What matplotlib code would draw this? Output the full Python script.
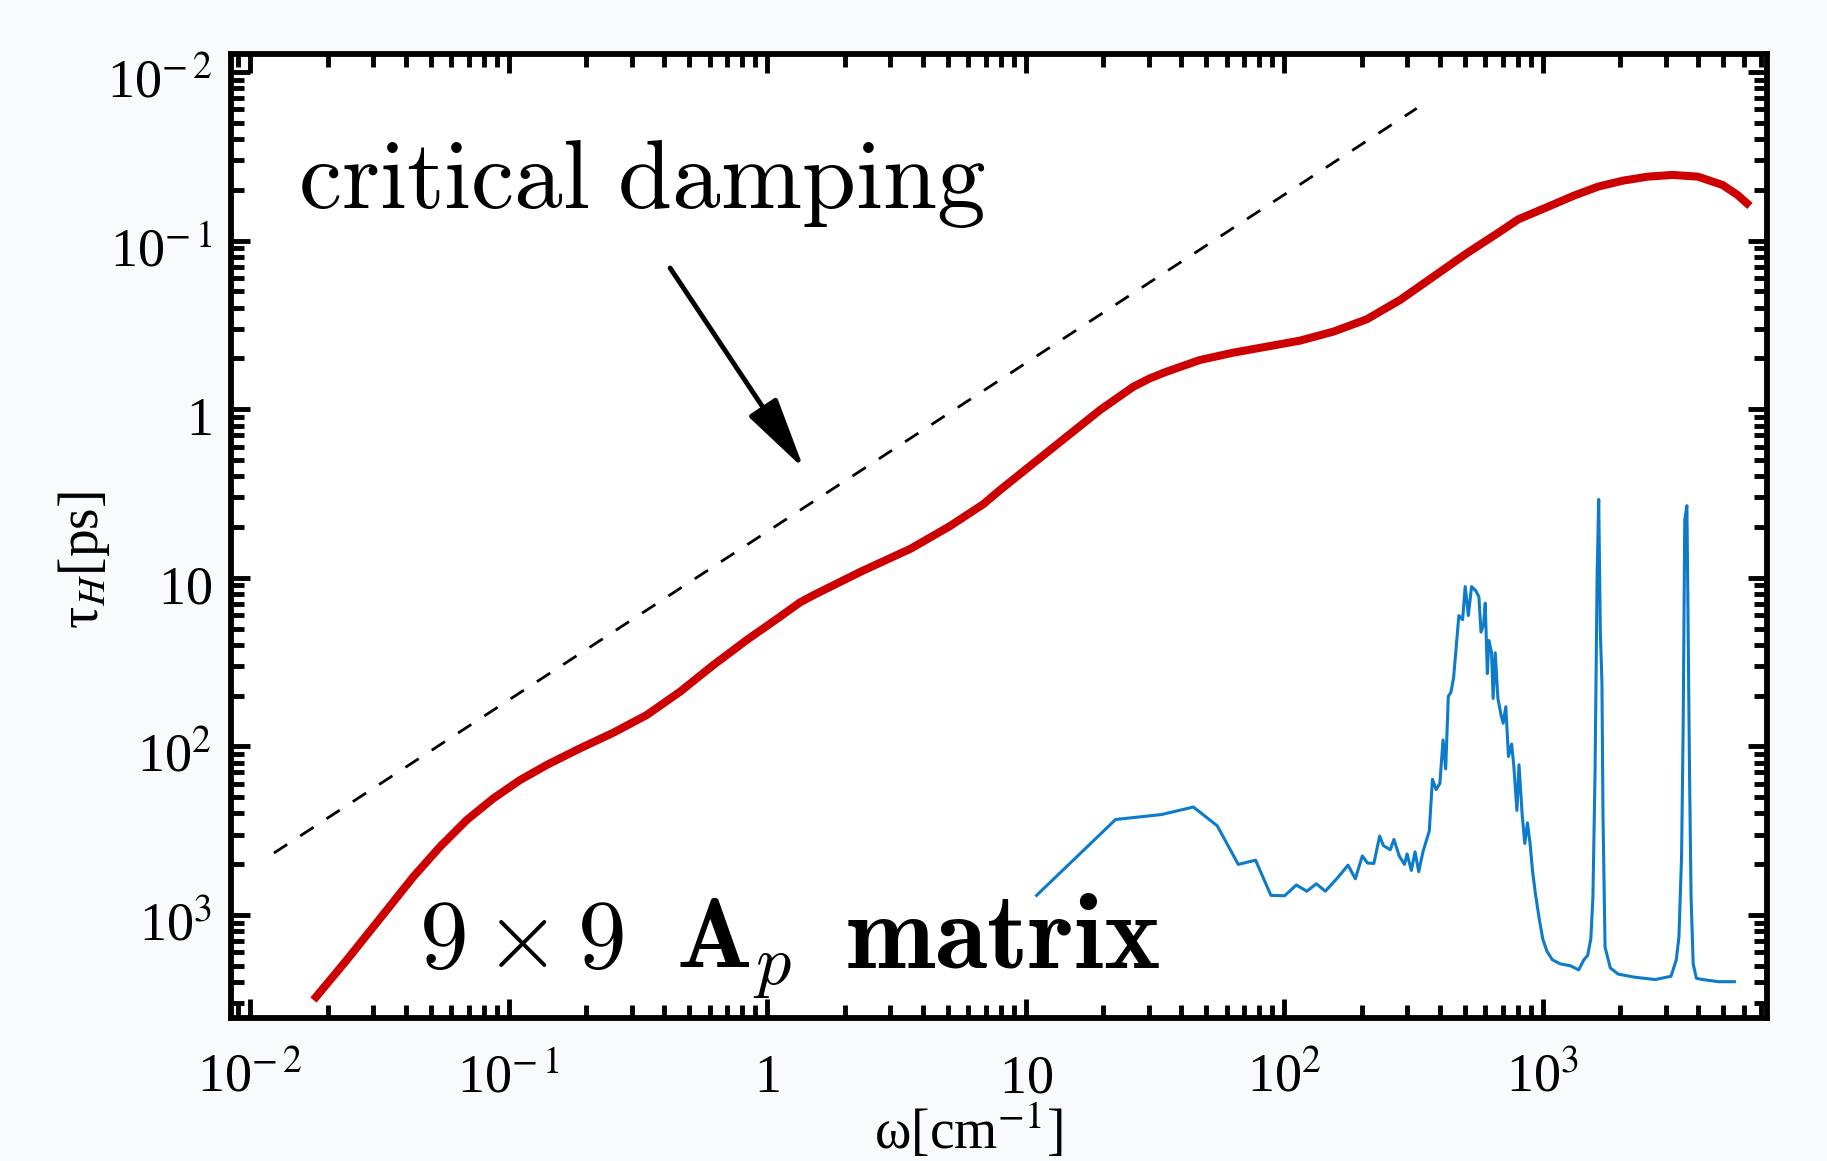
import numpy as np
import matplotlib
matplotlib.use("Agg")
import matplotlib.pyplot as plt
from matplotlib.transforms import ScaledTranslation
from matplotlib.ticker import LogLocator, NullFormatter

# ---------------- data ----------------
# red curve: omega [cm^-1] vs plotted axis value (axis is labelled by its reciprocal, tau_H)
omega_red = [0.01758, 0.02366, 0.03184, 0.04283, 0.05433, 0.06888, 0.08737, 0.1108, 0.1405,
             0.1890, 0.2544, 0.3423, 0.4609, 0.6200, 0.8345, 1.123, 1.342, 1.515, 2.333,
             3.594, 5.078, 6.871, 7.97, 10.72, 14.43, 19.42, 26.14, 30.29, 35.17, 47.32,
             63.68, 85.70, 115.3, 155.2, 208.9, 281.1, 378.2, 508.9, 684.8, 806.3,
             1053, 1314, 1640, 2048, 2556, 3190, 3983, 4971, 5678, 6343]
axis_red = [3.13e-4, 5.41e-4, 9.55e-4, 1.688e-3, 2.543e-3, 3.660e-3, 4.92e-3, 6.32e-3,
            7.76e-3, 9.74e-3, 1.206e-2, 1.535e-2, 2.112e-2, 3.039e-2, 4.277e-2, 5.88e-2,
            7.15e-2, 7.90e-2, 0.1097, 0.1488, 0.2018, 0.2736, 0.3317, 0.4775, 0.6873,
            0.989, 1.360, 1.524, 1.670, 1.958, 2.164, 2.349, 2.550, 2.884, 3.412,
            4.443, 6.109, 8.402, 11.30, 13.37, 15.90, 18.39, 20.89, 22.67, 23.94, 24.50,
            23.94, 21.37, 18.64, 16.04]

# blue spectrum
omega_blue = [11.03, 22.3, 33.6, 44.6, 55.1, 66.5, 77.6, 88.9, 100.5, 111.5, 122.5, 133.3,
              144.4, 162.4, 176.7, 188.7, 200.7, 210.3, 222.5, 234.3, 242.2, 257.5, 266.1,
              278.9, 292.3, 299.2, 310.7, 321.1, 331.8, 344.5, 364.5, 375.0, 387.6, 400.6,
              412.1, 421.9, 431.9, 442.2, 452.7, 474.5, 490.4, 502.0, 516.4, 531.1, 551.4,
              567.2, 578.0, 591.7, 600.1, 611.5, 620.2, 634.9, 643.9, 656.1, 671.7, 691.0,
              704.1, 720.8, 738.0, 759.1, 773.5, 795.7, 810.7, 833.9, 853.7, 874.0, 894.7,
              916.0, 937.9, 969.8, 1001.9, 1040.2, 1090.3, 1170.2, 1285.3, 1379.0, 1445.4,
              1493.7, 1537, 1566, 1596, 1626, 1649, 1673, 1697, 1713, 1745, 1829, 1962,
              2259, 2728, 3141, 3292, 3370, 3450, 3499, 3549, 3617, 3651, 3703, 3755, 3826,
              3937, 4165, 4796, 5523]
axis_blue = [1.307e-3, 3.684e-3, 3.943e-3, 4.366e-3, 3.383e-3, 1.995e-3, 2.114e-3, 1.307e-3,
             1.300e-3, 1.506e-3, 1.383e-3, 1.532e-3, 1.383e-3, 1.686e-3, 1.975e-3, 1.639e-3,
             2.239e-3, 2.033e-3, 2.021e-3, 2.937e-3, 2.578e-3, 2.436e-3, 2.806e-3, 2.239e-3,
             1.995e-3, 2.302e-3, 1.836e-3, 2.368e-3, 1.805e-3, 2.368e-3, 3.144e-3, 6.38e-3,
             5.54e-3, 6.03e-3, 1.092e-2, 7.35e-3, 1.979e-2, 2.095e-2, 2.553e-2, 5.97e-2,
             5.64e-2, 8.87e-2, 5.97e-2, 8.87e-2, 8.38e-2, 7.70e-2, 4.76e-2, 5.33e-2, 7.07e-2,
             2.70e-2, 4.25e-2, 3.59e-2, 1.924e-2, 3.59e-2, 1.924e-2, 1.534e-2, 1.370e-2,
             1.718e-2, 8.71e-3, 1.032e-2, 7.78e-3, 4.17e-3, 7.78e-3, 3.94e-3, 2.653e-3,
             3.52e-3, 2.653e-3, 1.784e-3, 1.345e-3, 9.57e-4, 7.21e-4, 6.09e-4, 5.43e-4,
             5.13e-4, 4.99e-4, 4.72e-4, 5.43e-4, 5.75e-4, 7.21e-4, 1.271e-3, 6.95e-3, 0.1051,
             0.2914, 4.76e-2, 2.413e-2, 3.94e-3, 6.44e-4, 4.85e-4, 4.46e-4, 4.28e-4, 4.14e-4,
             4.33e-4, 5.43e-4, 7.42e-4, 2.239e-3, 1.295e-2, 0.2195, 0.2677, 6.69e-2, 6.95e-3,
             1.271e-3, 5.13e-4, 4.21e-4, 4.14e-4, 4.02e-4, 4.02e-4]

# critical damping line (dashed)
omega_crit = [0.01236, 325.9]
axis_crit = [2.33e-3, 60.8]

x_ticks = [1e-2, 1e-1, 1, 10, 1e2, 1e3]
x_tick_labels = [r"10$^{-\,2}$", r"10$^{-\,1}$", r"1$\enspace$", r"10$\enspace$",
                 r"10$^{2}$", r"10$^{3}$"]
y_ticks = [1e2, 1e1, 1, 1e-1, 1e-2, 1e-3]
y_tick_labels = [r"10$^{-\,2}$", r"10$^{-\,1}$", r"1$\enspace$", r"10$\enspace$",
                 r"10$^{2}$", r"10$^{3}$"]

x_label = r"ω[cm$^{-1}$]"
y_label = r"τ$_{H}$[ps]"
annot_text = r"$\mathrm{critical\ damping}$"
matrix_parts = [r"$9\times9$", r"$\mathbf{A}_p$", r"$\mathbf{matrix}$"]

# ---------------- figure ----------------
plt.rcParams['font.family'] = ['Liberation Serif', 'DejaVu Serif']
plt.rcParams['mathtext.fontset'] = 'stix'

fig = plt.figure(figsize=(18.27, 11.61), dpi=100, facecolor='#F8FAFC')
ax = fig.add_axes([0.1262, 0.1232, 0.8412, 0.8299])
ax.set_facecolor('white')
ax.set_xscale('log')
ax.set_yscale('log')

ax.plot(omega_crit, axis_crit, color='black', lw=2.0, dashes=(5.7, 5.6))
ax.plot(omega_blue, axis_blue, color='#0C7BCB', lw=2.2, solid_joinstyle='round')
ax.plot(omega_red, axis_red, color='#CC0000', lw=5.8, solid_capstyle='butt',
        solid_joinstyle='round')

ax.set_xlim(8.40e-3, 7413)
ax.set_ylim(2.45e-4, 127)

for s in ax.spines.values():
    s.set_linewidth(4.2)

ax.set_xticks(x_ticks, x_tick_labels)
ax.set_yticks(y_ticks, y_tick_labels)
for axis in (ax.xaxis, ax.yaxis):
    axis.set_minor_locator(LogLocator(base=10, subs=np.arange(2, 10), numticks=100))
    axis.set_minor_formatter(NullFormatter())

ax.tick_params(which='both', direction='in', top=True, right=True, width=3.5, colors='black')
ax.tick_params(which='major', length=14)
ax.tick_params(which='minor', length=9.5)
ax.tick_params(axis='x', which='major', pad=53.5, labelsize=39)
ax.tick_params(axis='y', which='major', pad=13.3, labelsize=39)

for lbl in ax.get_xticklabels():
    lbl.set_va('baseline')
for lbl in ax.get_yticklabels():
    lbl.set_va('baseline')
    lbl.set_transform(lbl.get_transform() + ScaledTranslation(0, -0.26, fig.dpi_scale_trans))

ax.set_xlabel(x_label, fontsize=40)
ax.xaxis.label.set_va('baseline')
ax.xaxis.set_label_coords(0.4798, -0.1360)
ax.set_ylabel(y_label, fontsize=40)
ax.yaxis.set_label_coords(-0.0771, 0.4753)

ax.text(0.0439, 0.8407, annot_text, transform=ax.transAxes, fontsize=70,
        math_fontfamily='cm', ha='left', va='baseline')
for txt, xpos, fs in zip(matrix_parts, [0.1226, 0.2900, 0.3995], [70, 72, 77]):
    ax.text(xpos, 0.0519, txt, transform=ax.transAxes, fontsize=fs,
            math_fontfamily='cm', ha='left', va='baseline')

ax.annotate("", xy=(0.3731, 0.5698), xytext=(0.2860, 0.7784),
            xycoords='axes fraction', textcoords='axes fraction',
            arrowprops=dict(arrowstyle='-|>,head_length=2.8,head_width=0.65',
                            lw=3.5, color='black', shrinkA=0, shrinkB=0,
                            mutation_scale=16))

fig.savefig('out.png', dpi=100, facecolor=fig.get_facecolor())
